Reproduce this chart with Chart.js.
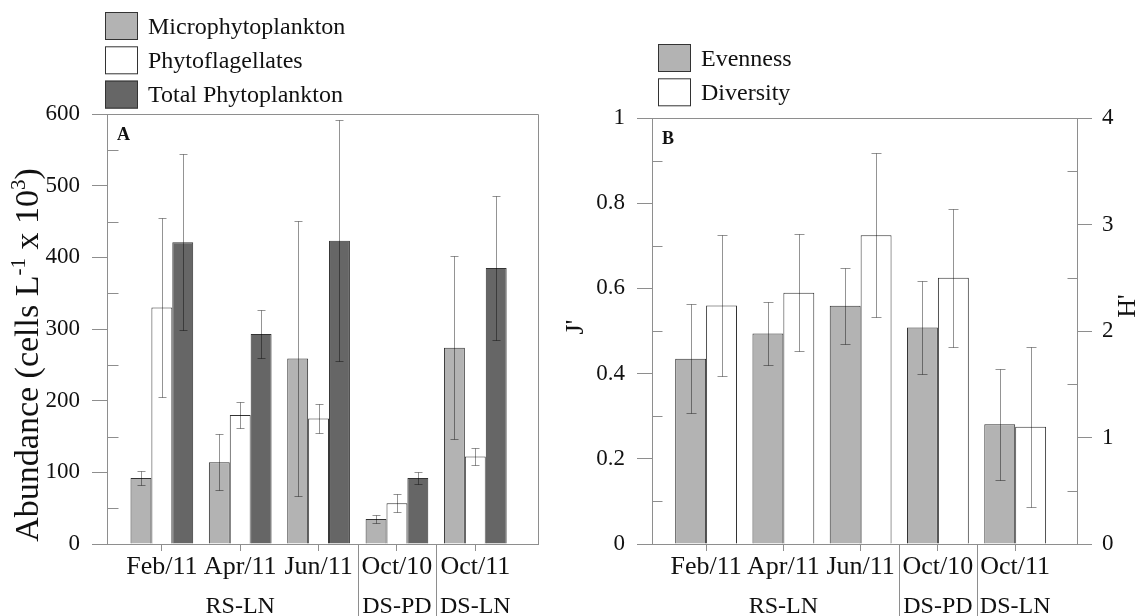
<!DOCTYPE html>
<html>
<head>
<meta charset="utf-8">
<title>Phytoplankton abundance and diversity</title>
<script src="https://cdn.jsdelivr.net/npm/chart.js@4.4.0/dist/chart.umd.min.js"></script>
<style>
  body { margin: 0; background: #fff; }
  #wrap { position: relative; width: 1146px; height: 616px; overflow: hidden; }
  .panel { position: absolute; top: 0; height: 616px; }
  #panelA { left: 0; width: 560px; }
  #panelB { left: 560px; width: 586px; }
</style>
</head>
<body>
<div id="wrap">
  <div class="panel" id="panelA"><canvas id="abundanceChart"></canvas></div>
  <div class="panel" id="panelB"><canvas id="diversityChart"></canvas></div>
</div>
<script>
// sampling months and the station group each one belongs to
const months = ['Feb/11', 'Apr/11', 'Jun/11', 'Oct/10', 'Oct/11'];
const stations = ['RS-LN', 'DS-PD', 'DS-LN'];
const stationSpans = [[0, 2], [3, 3], [4, 4]];

// abundance, cells L-1 x 10^3 (mean and standard deviation)
const microValues = [92, 114, 259, 35, 274];
const microErrors = [10, 39, 192, 5, 128];
const flagValues = [330, 180, 175, 57, 122];
const flagErrors = [125, 18, 20, 13, 12];
const totalValues = [421, 293, 423, 92, 385];
const totalErrors = [123, 33, 168, 8, 101];

// evenness J' and Shannon diversity H'
const evennessValues = [0.435, 0.494, 0.559, 0.508, 0.281];
const evennessErrors = [0.128, 0.073, 0.09, 0.109, 0.13];
const diversityValues = [2.24, 2.36, 2.90, 2.50, 1.10];
const diversityErrors = [0.66, 0.55, 0.77, 0.65, 0.75];

// axis ticks
const abundanceTicks = [0, 100, 200, 300, 400, 500, 600];
const abundanceMinor = [50, 150, 250, 350, 450, 550];
const evennessTicks = [0, 0.2, 0.4, 0.6, 0.8, 1];
const evennessMinor = [0.1, 0.3, 0.5, 0.7, 0.9];
const diversityTicks = [0, 1, 2, 3, 4];
const diversityMinor = [0.5, 1.5, 2.5, 3.5];

const serif = "'Liberation Serif', 'Times New Roman', serif";
const axisColor = '#8e8e8e';
const errorColor = 'rgba(0, 0, 0, 0.42)';
const edgeColor = '#333333';

Chart.defaults.font.family = serif;
Chart.defaults.color = '#111';
Chart.defaults.animation = false;

const toPoints = values => values.map((v, i) => ({ x: i, y: v }));

function line(ctx, x1, y1, x2, y2) {
    ctx.beginPath();
    ctx.moveTo(x1, y1);
    ctx.lineTo(x2, y2);
    ctx.stroke();
}

// vertical text with superscript pieces, reading bottom to top
function drawRotatedTitle(ctx, parts, cx, cy, size) {
    ctx.save();
    ctx.translate(cx, cy);
    ctx.rotate(-Math.PI / 2);
    ctx.fillStyle = '#111';
    ctx.textBaseline = 'alphabetic';
    let total = 0;
    parts.forEach(p => {
        ctx.font = `${p.sup ? Math.round(size * 0.62) : size}px ${serif}`;
        p.w = ctx.measureText(p.t).width;
        total += p.w;
    });
    let x = -total / 2;
    const base = size * 0.33;
    parts.forEach(p => {
        ctx.font = `${p.sup ? Math.round(size * 0.62) : size}px ${serif}`;
        ctx.fillText(p.t, x, p.sup ? base - size * 0.38 : base);
        x += p.w;
    });
    ctx.restore();
}

// mean +/- sd whiskers over every bar
const errorBars = {
    id: 'errorBars',
    afterDatasetsDraw(chart, args, opts) {
        const ctx = chart.ctx;
        ctx.save();
        ctx.strokeStyle = errorColor;
        ctx.lineWidth = 1;
        chart.data.datasets.forEach((ds, di) => {
            const meta = chart.getDatasetMeta(di);
            const yScale = chart.scales[meta.yAxisID];
            meta.data.forEach((bar, i) => {
                const v = ds.data[i].y;
                const e = ds.errors[i];
                const x = Math.round(bar.x) + 0.5;
                const top = Math.round(yScale.getPixelForValue(v + e)) + 0.5;
                const bot = Math.round(yScale.getPixelForValue(v - e)) + 0.5;
                const half = opts.cap / 2;
                line(ctx, x, top, x, bot);
                line(ctx, x - half, top, x + half, top);
                line(ctx, x - half, bot, x + half, bot);
            });
        });
        ctx.restore();
    }
};

// frame, minor ticks, station groups, legend, panel letter and axis titles
const panelDecor = {
    id: 'panelDecor',
    afterDraw(chart, args, o) {
        const { ctx, chartArea: a, scales } = chart;
        const xs = scales.x;
        const L = Math.round(a.left) + 0.5, R = Math.round(a.right) + 0.5;
        const T = Math.round(a.top) + 0.5, B = Math.round(a.bottom) + 0.5;
        ctx.save();
        ctx.strokeStyle = axisColor;
        ctx.lineWidth = 1;
        line(ctx, L, T, R, T);
        line(ctx, R, T, R, B);

        o.minor.forEach(m => {
            const s = scales[m.axis];
            const left = s.position === 'left';
            m.values.forEach(v => {
                const y = Math.round(s.getPixelForValue(v)) + 0.5;
                if (left) line(ctx, L, y, L + o.minorLength, y);
                else line(ctx, R, y, R - o.minorLength, y);
            });
        });

        // separators between station groups
        stationSpans.slice(1).forEach(span => {
            const px = Math.round(xs.getPixelForValue(span[0] - 0.5)) + 0.5;
            line(ctx, px, B, px, chart.height);
        });

        ctx.fillStyle = '#111';
        ctx.textAlign = 'center';
        ctx.textBaseline = 'alphabetic';
        ctx.font = `${o.stationSize}px ${serif}`;
        stations.forEach((name, i) => {
            const span = stationSpans[i];
            const px = xs.getPixelForValue((span[0] + span[1]) / 2);
            ctx.fillText(name, px, o.stationY);
        });

        // legend boxes
        ctx.textAlign = 'left';
        ctx.font = `${o.legendSize}px ${serif}`;
        chart.data.datasets.forEach((ds, i) => {
            const bx = o.legend.x;
            const by = o.legend.y + i * o.legend.step;
            ctx.fillStyle = ds.backgroundColor;
            ctx.fillRect(bx, by, o.legend.w, o.legend.h);
            ctx.strokeStyle = edgeColor;
            ctx.strokeRect(bx + 0.5, by + 0.5, o.legend.w - 1, o.legend.h - 1);
            ctx.fillStyle = '#111';
            ctx.fillText(ds.label, bx + o.legend.w + o.legend.gap, by + o.legend.h / 2 + o.legendSize * 0.32);
        });

        ctx.font = `bold 18px ${serif}`;
        ctx.fillText(o.letter, a.left + 10, a.top + 26);

        o.titles.forEach(t => drawRotatedTitle(ctx, t.parts, t.x, t.y, t.size));
        ctx.restore();
    }
};

function fixedWidth(w) {
    return scale => { scale.width = w; };
}

function xAxis() {
    return {
        type: 'linear',
        min: -0.7,
        max: 4.8,
        offset: false,
        afterFit: scale => { scale.height = 72; },
        border: { display: true, color: axisColor },
        grid: { offset: false, drawOnChartArea: false, drawTicks: true, tickLength: 7, color: axisColor },
        ticks: {
            stepSize: 1,
            includeBounds: false,
            autoSkip: false,
            maxRotation: 0,
            padding: 1,
            color: '#111',
            font: { size: 26 },
            callback: v => months[v] ?? ''
        }
    };
}

function yAxis(position, ticks, width, padding) {
    return {
        type: 'linear',
        position: position,
        min: ticks[0],
        max: ticks[ticks.length - 1],
        afterFit: fixedWidth(width),
        afterBuildTicks: scale => { scale.ticks = ticks.map(v => ({ value: v })); },
        border: { display: true, color: axisColor },
        grid: { drawOnChartArea: false, drawTicks: true, tickLength: 15, color: axisColor },
        ticks: {
            padding: padding,
            color: '#111',
            font: { size: 23 },
            callback: v => String(Math.round(v * 10) / 10)
        }
    };
}

const barStyle = { borderColor: edgeColor, borderWidth: 1, categoryPercentage: 0.8, barPercentage: 1.0 };

new Chart(document.getElementById('abundanceChart'), {
    type: 'bar',
    data: {
        datasets: [
            Object.assign({ label: 'Microphytoplankton', data: toPoints(microValues), errors: microErrors, backgroundColor: '#b3b3b3' }, barStyle),
            Object.assign({ label: 'Phytoflagellates', data: toPoints(flagValues), errors: flagErrors, backgroundColor: '#ffffff' }, barStyle),
            Object.assign({ label: 'Total Phytoplankton', data: toPoints(totalValues), errors: totalErrors, backgroundColor: '#666666' }, barStyle)
        ]
    },
    options: {
        responsive: true,
        maintainAspectRatio: false,
        devicePixelRatio: 1,
        layout: { padding: { top: 114, right: 22, left: 0, bottom: 0 } },
        scales: {
            x: xAxis(),
            y: yAxis('left', abundanceTicks, 107, 12)
        },
        plugins: {
            legend: { display: false },
            tooltip: { enabled: false },
            errorBars: { cap: 8 },
            panelDecor: {
                letter: 'A',
                minor: [{ axis: 'y', values: abundanceMinor }],
                minorLength: 11,
                stationSize: 24,
                stationY: 613,
                legendSize: 24,
                legend: { x: 105, y: 12, w: 33, h: 28, step: 34.3, gap: 10 },
                titles: [{
                    parts: [{ t: 'Abundance (cells L' }, { t: '-1', sup: true }, { t: ' x 10' }, { t: '3', sup: true }, { t: ')' }],
                    x: 27, y: 355, size: 34
                }]
            }
        }
    },
    plugins: [errorBars, panelDecor]
});

new Chart(document.getElementById('diversityChart'), {
    type: 'bar',
    data: {
        datasets: [
            Object.assign({ label: 'Evenness', data: toPoints(evennessValues), errors: evennessErrors, backgroundColor: '#b3b3b3', yAxisID: 'y' }, barStyle),
            Object.assign({ label: 'Diversity', data: toPoints(diversityValues), errors: diversityErrors, backgroundColor: '#ffffff', yAxisID: 'y1' }, barStyle)
        ]
    },
    options: {
        responsive: true,
        maintainAspectRatio: false,
        devicePixelRatio: 1,
        layout: { padding: { top: 118, right: 0, left: 0, bottom: 0 } },
        scales: {
            x: xAxis(),
            y: yAxis('left', evennessTicks, 92, 12),
            y1: yAxis('right', diversityTicks, 69, 10)
        },
        plugins: {
            legend: { display: false },
            tooltip: { enabled: false },
            errorBars: { cap: 10 },
            panelDecor: {
                letter: 'B',
                minor: [{ axis: 'y', values: evennessMinor }, { axis: 'y1', values: diversityMinor }],
                minorLength: 10,
                stationSize: 24,
                stationY: 613,
                legendSize: 24,
                legend: { x: 98, y: 44, w: 33, h: 28, step: 34.3, gap: 10 },
                titles: [
                    { parts: [{ t: "J'" }], x: 14, y: 327, size: 26 },
                    { parts: [{ t: "H'" }], x: 566, y: 306, size: 26 }
                ]
            }
        }
    },
    plugins: [errorBars, panelDecor]
});
</script>
</body>
</html>
